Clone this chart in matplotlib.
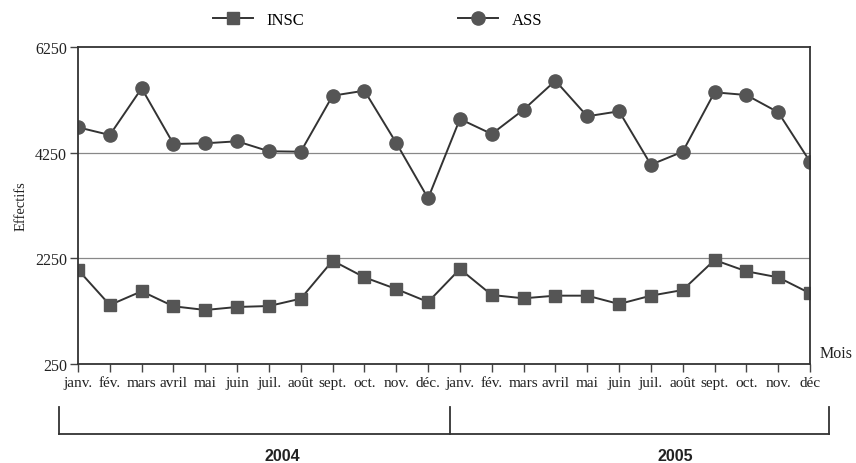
import matplotlib
matplotlib.use("Agg")
import matplotlib.pyplot as plt
import matplotlib.transforms as mtransforms

months = ["janv.", "fév.", "mars", "avril", "mai", "juin", "juil.", "août",
          "sept.", "oct.", "nov.", "déc.",
          "janv.", "fév.", "mars", "avril", "mai", "juin", "juil.", "août",
          "sept.", "oct.", "nov.", "déc"]
years = ["2004", "2005"]
insc = [2034, 1366, 1626, 1342, 1272, 1329, 1347, 1486, 2205, 1890, 1669, 1423,
        2048, 1556, 1493, 1543, 1543, 1385, 1543, 1650, 2218, 2004, 1890, 1588]
ass = [4730, 4584, 5468, 4414, 4427, 4465, 4276, 4268, 5328, 5423, 4433, 3385,
       4887, 4603, 5063, 5612, 4938, 5033, 4022, 4268, 5392, 5341, 5014, 4079]
yticks = [250, 2250, 4250, 6250]

serif = "Liberation Serif"
fig = plt.figure(figsize=(8.56, 4.64), dpi=100)
ax = fig.add_axes([0.0911, 0.2134, 0.8552, 0.6832])

x = list(range(len(months)))
mcol = "#555555"
lcol = "#333333"
l1, = ax.plot(x, insc, color=lcol, lw=1.4, marker="s", markersize=8.5,
              markerfacecolor=mcol, markeredgecolor=mcol, label="INSC")
l2, = ax.plot(x, ass, color=lcol, lw=1.4, marker="o", markersize=9.5,
              markerfacecolor=mcol, markeredgecolor=mcol, label="ASS")

ax.set_xlim(0, len(months) - 1)
ax.set_ylim(250, 6250)
ax.set_yticks(yticks)
ax.set_yticklabels([str(v) for v in yticks], fontfamily=serif, fontsize=11.5)
ax.set_xticks(x)
ax.set_xticklabels(months, fontfamily=serif, fontsize=11)
for v in [2250, 4250]:
    ax.axhline(v, color="#888888", lw=0.9, zorder=0)
for s in ax.spines.values():
    s.set_color("#333333")
    s.set_linewidth(1.3)
ax.tick_params(axis="both", direction="out", length=6, width=1, color="#444444",
               labelcolor="#222222")
ax.tick_params(axis="x", pad=3)
ax.tick_params(axis="y", pad=2)
ax.set_ylabel("Effectifs", fontfamily=serif, fontsize=10.5, color="#222222", labelpad=5)
ax.text(1.013, 0.035, "Mois", transform=ax.transAxes, fontfamily=serif, fontsize=11.5,
        color="#222222", ha="left", va="center")

leg = fig.legend(handles=[l1, l2], loc="center", bbox_to_anchor=(0.441, 0.955), ncol=2,
                 frameon=False, prop={"family": serif, "size": 12}, handlelength=2.4,
                 columnspacing=9.25)

# year bracket
tr = mtransforms.blended_transform_factory(ax.transData, ax.transAxes)
xl, xm, xr = -0.6, 11.7, 23.6
yb, yt = -0.221, -0.136
ax.plot([xl, xr], [yb, yb], color="#333333", lw=1.3, transform=tr, clip_on=False)
for xx in (xl, xm, xr):
    ax.plot([xx, xx], [yb, yt], color="#333333", lw=1.3, transform=tr, clip_on=False)
ax.text(6.41, -0.29, years[0], transform=tr, ha="center", va="center",
        fontfamily="Liberation Sans", fontweight="bold", fontsize=11.5, color="#222222")
ax.text(18.76, -0.29, years[1], transform=tr, ha="center", va="center",
        fontfamily="Liberation Sans", fontweight="bold", fontsize=11.5, color="#222222")

fig.savefig("out.png", dpi=100)
